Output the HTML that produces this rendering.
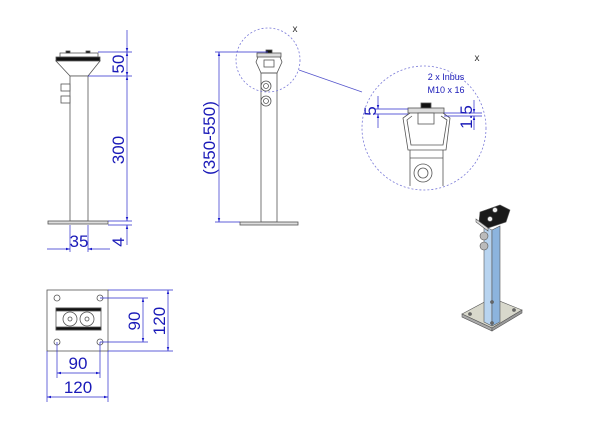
<!DOCTYPE html>
<html><head><style>body{margin:0;background:#fff}svg{display:block}</style></head><body>
<svg width="600" height="425" viewBox="0 0 600 425" xmlns="http://www.w3.org/2000/svg" font-family="Liberation Sans, Arial, sans-serif">
<defs>
<marker id="a" viewBox="0 0 10 10" refX="10" refY="5" markerWidth="6" markerHeight="6" orient="auto-start-reverse"><path d="M0,2 L10,5 L0,8z" fill="#1a1acc"/></marker>
</defs>
<g stroke="#555" stroke-width="0.8" fill="#fff">
<rect x="60" y="53" width="38" height="4"/>
<rect x="56" y="57" width="44" height="4" fill="#111"/>
<path d="M56,61 L100,61 L88,76 L70,76 Z"/>
<rect x="70" y="76" width="18" height="145"/>
<rect x="48" y="221" width="60" height="3" fill="#ddd"/>
<rect x="61" y="84" width="9" height="7"/><rect x="61" y="96" width="9" height="7"/>
<rect x="66" y="51" width="4" height="2" fill="#111"/><rect x="86" y="51" width="4" height="2" fill="#111"/>
<rect x="261" y="73" width="16" height="149"/>
<rect x="240" y="222" width="58" height="3" fill="#ddd"/>
<rect x="257" y="53" width="24" height="4" fill="#ddd"/>
<path d="M258,57 L256,62 L261,73 L277,73 L282,62 L280,57" fill="none"/>
<rect x="264" y="60" width="10" height="7"/>
<rect x="266" y="50" width="6" height="3" fill="#111"/>
<circle cx="266" cy="86" r="5"/><circle cx="266" cy="86" r="2.5"/>
<circle cx="266" cy="101" r="5"/><circle cx="266" cy="101" r="2.5"/>
<rect x="408" y="108" width="36" height="5" fill="#ddd"/>
<rect x="421" y="103" width="10" height="5" fill="#111"/>
<path d="M410,113 L403,118 L408,150 L446,150 L450,118 L443,113" fill="none"/>
<path d="M412,116 L407,120 L411,145 L443,145 L447,120 L441,116" fill="none"/>
<rect x="418" y="113" width="16" height="11"/>
<path d="M410,150 L410,186 M443,150 L443,186"/>
<line x1="410" y1="158" x2="443" y2="158"/>
<circle cx="423" cy="173" r="9"/><circle cx="423" cy="173" r="5"/>
<rect x="47" y="290" width="61" height="61"/>
<rect x="56" y="308" width="45" height="22"/>
<rect x="56" y="308" width="45" height="3" fill="#111"/><rect x="56" y="327" width="45" height="3" fill="#111"/>
<circle cx="70" cy="319" r="7"/><circle cx="70" cy="319" r="2"/>
<circle cx="87" cy="319" r="7"/><circle cx="87" cy="319" r="2"/>
<circle cx="57" cy="298" r="3"/><circle cx="100" cy="298" r="3"/><circle cx="57" cy="342" r="3"/><circle cx="100" cy="342" r="3"/>
</g>
<g fill="none" stroke="#7a7ad8" stroke-width="0.8" stroke-dasharray="2,2">
<circle cx="268" cy="60" r="32"/><circle cx="424" cy="128" r="62"/>
</g>
<line x1="299" y1="70" x2="362" y2="92" stroke="#5555cc" stroke-width="0.8"/>
<g stroke="#2a2acc" stroke-width="0.7" fill="none">
<line x1="98" y1="52" x2="132" y2="52"/><line x1="88" y1="76" x2="132" y2="76"/><line x1="108" y1="221" x2="132" y2="221"/><line x1="108" y1="225" x2="132" y2="225"/>
<line x1="127" y1="30" x2="127" y2="52" marker-end="url(#a)"/><line x1="127" y1="52" x2="127" y2="76" marker-start="url(#a)" marker-end="url(#a)"/>
<line x1="127" y1="76" x2="127" y2="221" marker-start="url(#a)" marker-end="url(#a)"/>
<line x1="127" y1="225" x2="127" y2="245" marker-start="url(#a)"/>
<line x1="70" y1="225" x2="70" y2="252"/><line x1="88" y1="225" x2="88" y2="252"/>
<line x1="47" y1="249" x2="70" y2="249" marker-end="url(#a)"/><line x1="88" y1="249" x2="110" y2="249" marker-start="url(#a)"/>
<line x1="215" y1="52" x2="268" y2="52"/><line x1="215" y1="222" x2="240" y2="222"/>
<line x1="219" y1="52" x2="219" y2="222" marker-start="url(#a)" marker-end="url(#a)"/>
<line x1="375" y1="109" x2="408" y2="109"/><line x1="375" y1="114" x2="408" y2="114"/>
<line x1="378" y1="96" x2="378" y2="109" marker-end="url(#a)"/><line x1="378" y1="114" x2="378" y2="128" marker-start="url(#a)"/>
<line x1="444" y1="113" x2="482" y2="113"/><line x1="444" y1="116" x2="482" y2="116"/>
<line x1="474" y1="100" x2="474" y2="113" marker-end="url(#a)"/><line x1="474" y1="116" x2="474" y2="130" marker-start="url(#a)"/>
<line x1="100" y1="298" x2="148" y2="298"/><line x1="100" y1="342" x2="148" y2="342"/>
<line x1="108" y1="290" x2="173" y2="290"/><line x1="108" y1="351" x2="173" y2="351"/>
<line x1="143" y1="298" x2="143" y2="342" marker-start="url(#a)" marker-end="url(#a)"/>
<line x1="168" y1="290" x2="168" y2="351" marker-start="url(#a)" marker-end="url(#a)"/>
<line x1="57" y1="342" x2="57" y2="378"/><line x1="100" y1="342" x2="100" y2="378"/>
<line x1="47" y1="351" x2="47" y2="402"/><line x1="108" y1="351" x2="108" y2="402"/>
<line x1="57" y1="373" x2="100" y2="373" marker-start="url(#a)" marker-end="url(#a)"/>
<line x1="47" y1="397" x2="108" y2="397" marker-start="url(#a)" marker-end="url(#a)"/>
</g>
<g fill="#1a1ab8" font-size="17">
<text transform="translate(124,64) rotate(-90)" text-anchor="middle">50</text>
<text transform="translate(124,150) rotate(-90)" text-anchor="middle">300</text>
<text transform="translate(124,242) rotate(-90)" text-anchor="middle">4</text>
<text x="79" y="247" text-anchor="middle">35</text>
<text transform="translate(215,138) rotate(-90)" text-anchor="middle">(350-550)</text>
<text transform="translate(376,111) rotate(-90)" text-anchor="middle">5</text>
<text transform="translate(472,117) rotate(-90)" text-anchor="middle">1.5</text>
<text transform="translate(140,321) rotate(-90)" text-anchor="middle">90</text>
<text transform="translate(165,321) rotate(-90)" text-anchor="middle">120</text>
<text x="78" y="369" text-anchor="middle">90</text>
<text x="78" y="393" text-anchor="middle">120</text>
<text x="446" y="80" font-size="9" text-anchor="middle">2 x Inbus</text>
<text x="446" y="93" font-size="9" text-anchor="middle">M10 x 16</text>
</g>
<text x="295" y="32" font-size="10" fill="#333" text-anchor="middle">x</text>
<text x="477" y="61" font-size="10" fill="#333" text-anchor="middle">x</text>
<g stroke="#555" stroke-width="0.6">
<path d="M462,314 L492,298 L522,310 L492,328 Z" fill="#d8d8cc"/>
<path d="M462,314 L492,328 L492,331 L462,317 Z" fill="#aaa"/>
<path d="M492,328 L522,310 L522,313 L492,331 Z" fill="#999"/>
<path d="M484,226 L492,230 L492,326 L484,322 Z" fill="#b8d4f0"/>
<path d="M492,230 L500,226 L500,322 L492,326 Z" fill="#8cb4de"/>
<path d="M480,212 L500,205 L510,210 L506,222 L488,228 L479,222 Z" fill="#1a1a1a"/>
<path d="M476,219 L488,228 L488,231 L476,222 Z" fill="#ddd"/>
<circle cx="495" cy="210" r="2.5" fill="#eee"/><circle cx="490" cy="219" r="2.5" fill="#eee"/>
<circle cx="484" cy="236" r="4" fill="#bbb"/><circle cx="484" cy="246" r="4" fill="#bbb"/>
<circle cx="470" cy="314" r="1.5" fill="#666"/><circle cx="492" cy="302" r="1.5" fill="#666"/><circle cx="514" cy="310" r="1.5" fill="#666"/><circle cx="492" cy="323" r="1.5" fill="#666"/>
</g>
</svg>
</body></html>
